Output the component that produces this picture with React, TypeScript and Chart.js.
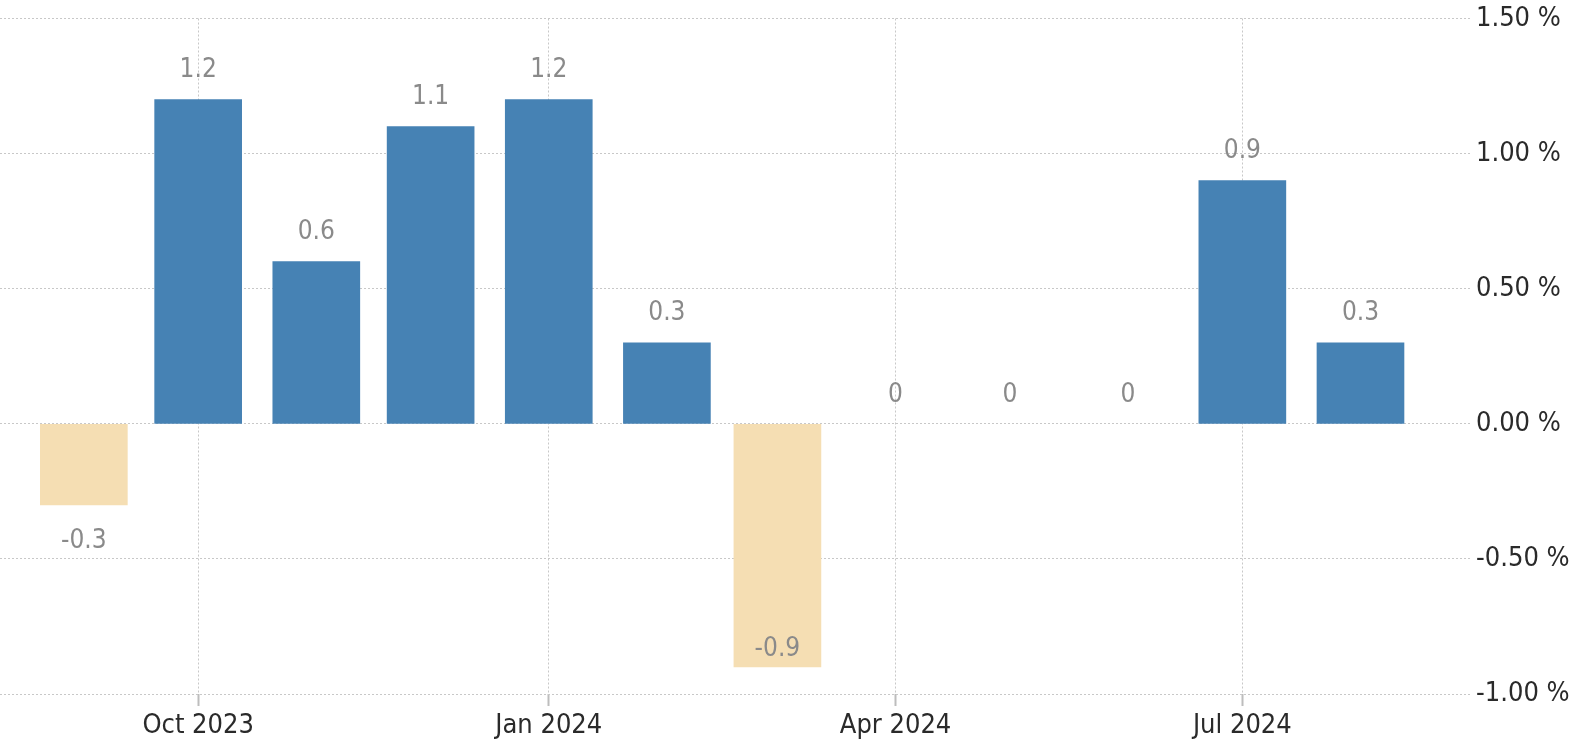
import React, { useEffect, useRef } from 'react';
import { Chart, registerables } from 'chart.js';

Chart.register(...registerables);

// ---- Data ----
const months = [
  '2023-09-01', '2023-10-01', '2023-11-01', '2023-12-01',
  '2024-01-01', '2024-02-01', '2024-03-01', '2024-04-01',
  '2024-05-01', '2024-06-01', '2024-07-01', '2024-08-01',
];
const values = [-0.3, 1.2, 0.6, 1.1, 1.2, 0.3, -0.9, 0, 0, 0, 0.9, 0.3];

const xTickDates = ['2023-10-01', '2024-01-01', '2024-04-01', '2024-07-01'];
const xTickLabels = ['Oct 2023', 'Jan 2024', 'Apr 2024', 'Jul 2024'];
const xRange = ['2023-08-10', '2024-08-30'];

const yTicks = [-1, -0.5, 0, 0.5, 1, 1.5];

// ---- Styles ----
const FONT = "'DejaVu Sans Condensed', 'DejaVu Sans', sans-serif";
const POS_COLOR = '#4682B4';
const NEG_COLOR = '#F5DEB3';
const GRID_COLOR = '#c8c8c8';
const LABEL_COLOR = '#8a8a8a';
const TICK_COLOR = '#2a2a2a';

const toDay = (s: string) => Date.parse(s + 'T00:00:00Z') / 86400000;

const valueLabels = {
  id: 'valueLabels',
  afterDatasetsDraw(chart: any) {
    const ctx = chart.ctx;
    const meta = chart.getDatasetMeta(0);
    const area = chart.chartArea;
    ctx.save();
    ctx.font = `26px ${FONT}`;
    ctx.fillStyle = LABEL_COLOR;
    ctx.textAlign = 'center';
    ctx.textBaseline = 'middle';
    meta.data.forEach((bar: any, i: number) => {
      const v = values[i];
      let y: number;
      if (v >= 0) {
        y = bar.y - 29;
      } else {
        y = bar.y + 36;
        if (y + 15 > area.bottom) y = bar.y - 18;
      }
      ctx.fillText(String(v), bar.x, y);
    });
    ctx.restore();
  },
};

export default function App() {
  const ref = useRef<HTMLCanvasElement | null>(null);

  useEffect(() => {
    document.body.style.margin = '0';
    const canvas = ref.current;
    if (!canvas) return;
    Chart.defaults.font.family = FONT;

    const chart = new Chart(canvas, {
      type: 'bar',
      data: {
        datasets: [
          {
            data: months.map((m, i) => ({ x: toDay(m), y: values[i] })),
            backgroundColor: values.map((v) =>
              v < 0 ? NEG_COLOR : v > 0 ? POS_COLOR : 'rgba(0,0,0,0)'
            ),
            barThickness: 87,
            borderWidth: 0,
          },
        ],
      },
      options: {
        animation: false,
        responsive: false,
        devicePixelRatio: 1,
        layout: { padding: { top: 17, left: 0, right: 0, bottom: 0 } },
        plugins: {
          legend: { display: false },
          tooltip: { enabled: false },
        },
        scales: {
          x: {
            type: 'linear',
            offset: false,
            min: toDay(xRange[0]),
            max: toDay(xRange[1]),
            afterBuildTicks: (scale: any) => {
              scale.ticks = xTickDates.map((d) => ({ value: toDay(d) }));
            },
            afterFit: (scale: any) => {
              scale.height = 56;
            },
            ticks: {
              autoSkip: false,
              maxRotation: 0,
              padding: 6,
              color: TICK_COLOR,
              font: { size: 27, lineHeight: 1 },
              callback: (_v: any, i: number) => xTickLabels[i],
            },
            grid: {
              offset: false,
              color: GRID_COLOR,
              lineWidth: 1,
              drawTicks: true,
              tickLength: 12,
              tickColor: '#bdbdbd',
              tickWidth: 2,
            },
            border: { display: false, dash: [2, 2] },
          },
          y: {
            type: 'linear',
            position: 'right',
            min: -1,
            max: 1.5,
            afterBuildTicks: (scale: any) => {
              scale.ticks = yTicks.map((v) => ({ value: v }));
            },
            afterFit: (scale: any) => {
              scale.width = 110;
            },
            ticks: {
              padding: 5,
              color: TICK_COLOR,
              font: { size: 27, lineHeight: 1 },
              callback: (v: any) => Number(v).toFixed(2) + ' %',
            },
            grid: {
              color: GRID_COLOR,
              lineWidth: 1,
              drawTicks: false,
            },
            border: { display: false, dash: [2, 2] },
          },
        },
      },
      plugins: [valueLabels],
    } as any);

    return () => chart.destroy();
  }, []);

  return (
    <div style={{ width: 1581, height: 750, background: '#fff' }}>
      <canvas ref={ref} width={1581} height={750} style={{ display: 'block' }} />
    </div>
  );
}
